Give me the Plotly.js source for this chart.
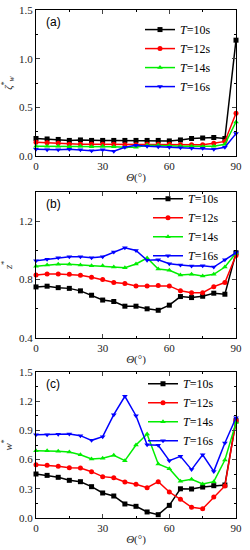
<!DOCTYPE html>
<html><head><meta charset="utf-8">
<script src="https://cdn.plot.ly/plotly-3.0.1.min.js"></script>
<style>html,body{margin:0;padding:0;background:#fff}#c{width:250px;height:550px}</style>
</head><body><div id="c"></div>
<script>
const theta = [0,5,10,15,20,25,30,35,40,45,50,55,60,65,70,75,80,85,90];
const seriesNames = ['<i>T</i>=10s','<i>T</i>=12s','<i>T</i>=14s','<i>T</i>=16s'];
const colors = ['#000000','#ff0000','#00ee00','#0000ff'];
const symbols = ['square','circle','triangle-up','triangle-down'];

// (a) zeta_w*
const a10 = [0.18,0.175,0.17,0.16,0.165,0.16,0.16,0.16,0.16,0.16,0.16,0.16,0.155,0.165,0.18,0.185,0.19,0.18,1.19];
const a12 = [0.14,0.135,0.13,0.12,0.12,0.12,0.12,0.12,0.115,0.115,0.12,0.12,0.12,0.115,0.115,0.115,0.13,0.15,0.44];
const a14 = [0.10,0.10,0.10,0.095,0.10,0.095,0.10,0.095,0.09,0.09,0.11,0.11,0.105,0.10,0.10,0.095,0.10,0.12,0.35];
const a16 = [0.07,0.065,0.065,0.07,0.065,0.055,0.065,0.05,0.09,0.11,0.10,0.095,0.09,0.085,0.08,0.08,0.07,0.09,0.23];
// (b) z*
const b10 = [0.75,0.755,0.745,0.74,0.723,0.693,0.66,0.65,0.618,0.618,0.60,0.59,0.625,0.684,0.677,0.686,0.707,0.70,0.984];
const b12 = [0.832,0.839,0.839,0.836,0.83,0.816,0.80,0.78,0.773,0.757,0.757,0.759,0.757,0.723,0.71,0.71,0.752,0.78,0.966];
const b14 = [0.891,0.90,0.905,0.905,0.90,0.895,0.895,0.886,0.882,0.907,0.948,0.873,0.864,0.832,0.836,0.825,0.836,0.886,0.982];
const b16 = [0.93,0.939,0.95,0.957,0.957,0.95,0.957,0.99,1.018,1.0,0.932,0.936,0.909,0.90,0.893,0.895,0.886,0.936,0.984];
// (c) w*
const c10 = [0.452,0.438,0.418,0.387,0.373,0.322,0.257,0.226,0.144,0.12,0.062,0.034,0.13,0.30,0.298,0.318,0.332,0.339,1.0];
const c12 = [0.548,0.541,0.531,0.517,0.514,0.476,0.425,0.414,0.37,0.346,0.312,0.373,0.267,0.192,0.11,0.096,0.216,0.329,1.0];
const c14 = [0.692,0.692,0.685,0.678,0.65,0.606,0.613,0.644,0.589,0.75,0.863,0.555,0.507,0.377,0.397,0.349,0.373,0.596,0.98];
const c16 = [0.856,0.856,0.86,0.863,0.846,0.798,0.836,1.062,1.25,1.051,0.753,0.747,0.589,0.634,0.497,0.65,0.479,0.77,1.03];

const panels = [
  {data:[a10,a12,a14,a16], xa:'x', ya:'y', leg:'legend'},
  {data:[b10,b12,b14,b16], xa:'x2', ya:'y2', leg:'legend2'},
  {data:[c10,c12,c14,c16], xa:'x3', ya:'y3', leg:'legend3'}
];
const traces = [];
panels.forEach(p => {
  p.data.forEach((ys,i) => {
    traces.push({x:theta, y:ys, xaxis:p.xa, yaxis:p.ya, legend:p.leg, name:seriesNames[i],
      type:'scatter', mode:'lines+markers', cliponaxis:false,
      line:{color:colors[i], width:1.5},
      marker:{color:colors[i], symbol:symbols[i], size:5}});
  });
});

const tf = {family:'Liberation Serif, serif', size:11, color:'#222'};
function xax(anchor){
  return {anchor:anchor, domain:[0,1], range:[0,90], tickvals:[0,30,60,90], ticks:'inside', ticklen:4,
    mirror:'allticks', showline:true, linecolor:'#000', linewidth:1, showgrid:false, zeroline:false,
    tickfont:tf, minor:{ticks:'inside', ticklen:2, tickvals:[15,45,75], tickcolor:'#000'},
    title:{text:'<i>Θ</i>(°)', font:{family:'Liberation Serif, serif', size:11, color:'#222'}, standoff:2}};
}
function yax(anchor, dom, range, tv, mv, ttl){
  return {anchor:anchor, domain:dom, range:range, tickvals:tv, tickformat:'.1f', ticks:'inside', ticklen:4,
    mirror:'allticks', showline:true, linecolor:'#000', linewidth:1, showgrid:false, zeroline:false,
    tickfont:tf, minor:{ticks:'inside', ticklen:2, tickvals:mv, tickcolor:'#000'},
    title:{text:ttl, font:{family:'Liberation Serif, serif', size:11, color:'#222'}, standoff:6}};
}
const lf = {family:'Liberation Serif, serif', size:12, color:'#000'};
function leg(x,y){return {x:x, y:y, xanchor:'left', yanchor:'top', bgcolor:'rgba(0,0,0,0)', font:lf, itemwidth:30, tracegroupgap:0};}

const layout = {
  width:250, height:550, margin:{l:36, r:14, t:10, b:32},
  paper_bgcolor:'#fff', plot_bgcolor:'#fff', showlegend:true,
  xaxis: xax('y'), xaxis2: xax('y2'), xaxis3: xax('y3'),
  yaxis: yax('x',[0.7126,1.0],[0,1.5],[0,0.5,1.0,1.5],[0.25,0.75,1.25],'<i>ζ</i><sup>*</sup><sub><i>w</i></sub>'),
  yaxis2: yax('x2',[0.3543,0.6417],[0.4,1.4],[0.4,0.8,1.2],[0.6,1.0],'<i>z</i><sup>*</sup>'),
  yaxis3: yax('x3',[0,0.2874],[0,1.5],[0,0.3,0.6,0.9,1.2,1.5],[0.15,0.45,0.75,1.05,1.35],'<i>w</i><sup>*</sup>'),
  legend: leg(0.52,0.99),
  legend2: leg(0.56,0.657),
  legend3: leg(0.535,0.293),
  annotations:[
    {text:'(a)', xref:'x domain', yref:'y domain', x:0.04, y:0.98, xanchor:'left', yanchor:'top', showarrow:false, font:{family:'Liberation Sans, Arial, sans-serif', size:12, color:'#000'}},
    {text:'(b)', xref:'x2 domain', yref:'y2 domain', x:0.04, y:0.98, xanchor:'left', yanchor:'top', showarrow:false, font:{family:'Liberation Sans, Arial, sans-serif', size:12, color:'#000'}},
    {text:'(c)', xref:'x3 domain', yref:'y3 domain', x:0.04, y:0.98, xanchor:'left', yanchor:'top', showarrow:false, font:{family:'Liberation Sans, Arial, sans-serif', size:12, color:'#000'}}
  ]
};
Plotly.newPlot('c', traces, layout, {displayModeBar:false, staticPlot:true});
</script></body></html>
